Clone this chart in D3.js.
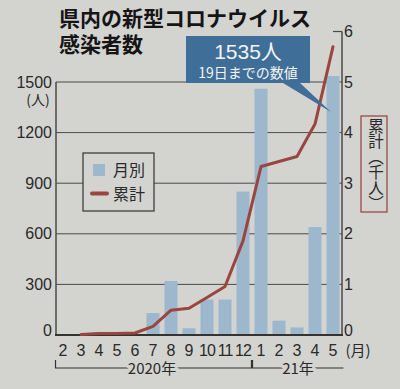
<!DOCTYPE html>
<html>
<head>
<meta charset="utf-8">
<script src="https://cdn.jsdelivr.net/npm/d3@7"></script>
<style>
  body { margin: 0; background: #d3d3d0; }
  svg { display: block; }
  text { font-family: "Liberation Sans", "Noto Sans CJK JP", sans-serif; fill: #2a2a2a; }
  .jp { font-family: "Noto Sans CJK JP", sans-serif; }
</style>
</head>
<body>
<svg class="chart" width="400" height="389"></svg>
<script>
// months (2020/2 .. 2021/5)
const months = ["2", "3", "4", "5", "6", "7", "8", "9", "10", "11", "12", "1", "2", "3", "4", "5"]
// 月別 (人)
const monthly = [0, 5, 15, 2, 3, 130, 320, 40, 210, 210, 850, 1460, 85, 45, 640, 1535]
// 累計 (千人), starts in March
const cumulative = [null, 0.01, 0.03, 0.03, 0.04, 0.17, 0.49, 0.53, 0.74, 0.96, 1.86, 3.33, 3.43, 3.53, 4.17, 5.7]
const leftTicks = [0, 300, 600, 900, 1200, 1500]
const rightTicks = [0, 1, 2, 3, 4, 5, 6]

const svg = d3.select("svg.chart")
const barColor = "#9db7cc"
const lineColor = "#9a463f"
const gridColor = "#4a4a4a"

const keys = months.map((m, i) => i)

const x = d3.scaleBand()
  .domain(keys)
  .range([54, 342])
  .paddingInner(0.28)
  .paddingOuter(0.14)

const yL = d3.scaleLinear().domain([0, 1500]).range([335, 82])
const yR = d3.scaleLinear().domain([0, 6]).range([335, 31.5])

// title
svg.append("text").attr("class", "jp")
  .attr("x", 59).attr("y", 26)
  .attr("font-size", 21).attr("font-weight", "bold")
  .style("fill", "#151515")
  .text("県内の新型コロナウイルス")
svg.append("text").attr("class", "jp")
  .attr("x", 59).attr("y", 52)
  .attr("font-size", 21).attr("font-weight", "bold")
  .style("fill", "#151515")
  .text("感染者数")

// gridlines
svg.append("g")
  .selectAll("line")
  .data(leftTicks.slice(1))
  .enter()
  .append("line")
  .attr("x1", 56).attr("x2", 342)
  .attr("y1", d => yL(d)).attr("y2", d => yL(d))
  .attr("stroke", gridColor).attr("stroke-width", 1)

// bars
svg.append("g")
  .selectAll("rect")
  .data(monthly)
  .enter()
  .append("rect")
  .attr("x", (d, i) => x(i))
  .attr("y", d => yL(d))
  .attr("width", x.bandwidth())
  .attr("height", d => yL(0) - yL(d))
  .attr("fill", barColor)

// axes lines
svg.append("line").attr("x1", 56).attr("x2", 56).attr("y1", yL(1500)).attr("y2", yL(0))
  .attr("stroke", gridColor).attr("stroke-width", 1.5)
svg.append("line").attr("x1", 342).attr("x2", 342).attr("y1", yR(6)).attr("y2", yL(0) + 1)
  .attr("stroke", gridColor).attr("stroke-width", 1.5)
svg.append("line").attr("x1", 333).attr("x2", 342).attr("y1", yR(6)).attr("y2", yR(6))
  .attr("stroke", gridColor).attr("stroke-width", 1.2)
svg.append("line").attr("x1", 55).attr("x2", 343).attr("y1", yL(0)).attr("y2", yL(0))
  .attr("stroke", "#333").attr("stroke-width", 2)

// cumulative line
const line = d3.line()
  .defined(d => d != null)
  .x((d, i) => x(i) + x.bandwidth() / 2)
  .y(d => yR(d))

svg.append("path")
  .datum(cumulative)
  .attr("d", line)
  .attr("fill", "none")
  .attr("stroke", lineColor)
  .attr("stroke-width", 3)
  .attr("stroke-linejoin", "round")
  .attr("stroke-linecap", "round")

// left tick labels (the 0 sits a little above the baseline)
svg.append("g")
  .selectAll("text")
  .data(leftTicks)
  .enter()
  .append("text")
  .attr("x", 52)
  .attr("y", d => yL(d) + (d === 0 ? 1 : 5.5))
  .attr("text-anchor", "end")
  .attr("font-size", 16)
  .text(d => d)
svg.append("text").attr("class", "jp")
  .attr("x", 38).attr("y", 105)
  .attr("text-anchor", "middle").attr("font-size", 14)
  .text("(人)")

// right tick labels
svg.append("g")
  .selectAll("text")
  .data(rightTicks)
  .enter()
  .append("text")
  .attr("x", 344)
  .attr("y", d => yR(d) + (d === 0 ? 1 : 5.5))
  .attr("font-size", 16)
  .text(d => d)

// right axis title box (vertical text)
svg.append("rect")
  .attr("x", 361).attr("y", 116).attr("width", 26).attr("height", 96)
  .attr("fill", "none").attr("stroke", "#9a4a44").attr("stroke-width", 1.3)
svg.append("text").attr("class", "jp")
  .attr("x", 376).attr("y", 118)
  .attr("font-size", 15.5)
  .style("writing-mode", "vertical-rl")
  .text("累計（千人）")

// x tick labels
svg.append("g")
  .selectAll("text")
  .data(months)
  .enter()
  .append("text")
  .attr("x", (d, i) => x(i) + x.bandwidth() / 2)
  .attr("y", 356)
  .attr("text-anchor", "middle")
  .attr("font-size", 16)
  .attr("letter-spacing", d => d.length > 1 ? -1 : 0)
  .text(d => d)
svg.append("text").attr("class", "jp")
  .attr("x", 358).attr("y", 356)
  .attr("text-anchor", "middle").attr("font-size", 15)
  .text("(月)")

// year brackets
const yb = 368
const xa = x(0) - 1, xb = x(10) + x.bandwidth() + 2
const xc = x(11) - 2, xd = x(15) + x.bandwidth() + 4
svg.append("path")
  .attr("d", `M${xa},${yb - 8}V${yb}H${xb}V${yb - 8}`)
  .attr("fill", "none").attr("stroke", "#333").attr("stroke-width", 1.2)
svg.append("path")
  .attr("d", `M${xc},${yb - 8}V${yb}H${xd}`)
  .attr("fill", "none").attr("stroke", "#333").attr("stroke-width", 1.2)
svg.append("text").attr("class", "jp")
  .attr("x", 152).attr("y", 374)
  .attr("text-anchor", "middle").attr("font-size", 15)
  .style("paint-order", "stroke").style("stroke", "#d3d3d0").style("stroke-width", 6)
  .text("2020年")
svg.append("text").attr("class", "jp")
  .attr("x", 298).attr("y", 374)
  .attr("text-anchor", "middle").attr("font-size", 15)
  .style("paint-order", "stroke").style("stroke", "#d3d3d0").style("stroke-width", 6)
  .text("21年")

// legend
const lg = svg.append("g")
lg.append("rect")
  .attr("x", 83).attr("y", 153).attr("width", 71).attr("height", 58)
  .attr("fill", "#d3d3d0").attr("stroke", "#333").attr("stroke-width", 1.2)
lg.append("rect")
  .attr("x", 93).attr("y", 164).attr("width", 12).attr("height", 12)
  .attr("fill", barColor)
lg.append("line")
  .attr("x1", 92).attr("x2", 107).attr("y1", 193.5).attr("y2", 193.5)
  .attr("stroke", lineColor).attr("stroke-width", 4).attr("stroke-linecap", "round")
lg.append("text").attr("class", "jp")
  .attr("x", 113).attr("y", 176).attr("font-size", 16).text("月別")
lg.append("text").attr("class", "jp")
  .attr("x", 113).attr("y", 200).attr("font-size", 16).text("累計")

// callout
const last = monthly.length - 1
const tipX = x(last) + x.bandwidth() / 2 - 2
const tipY = yL(monthly[last]) + 36
const bx0 = 186, bx1 = 310, by0 = 36, by1 = 83
svg.append("path")
  .attr("d", `M${bx0},${by0}H${bx1}V${by1}H${300}L${tipX},${tipY}L${283},${by1}H${bx0}Z`)
  .attr("fill", "#3f6e98")
svg.append("text")
  .attr("x", (bx0 + bx1) / 2).attr("y", 59)
  .attr("text-anchor", "middle").attr("font-size", 21)
  .style("fill", "#f4f4f4")
  .text("1535人")
svg.append("text").attr("class", "jp")
  .attr("x", (bx0 + bx1) / 2).attr("y", 78)
  .attr("text-anchor", "middle").attr("font-size", 14)
  .style("fill", "#f4f4f4")
  .text("19日までの数値")
</script>
</body>
</html>
